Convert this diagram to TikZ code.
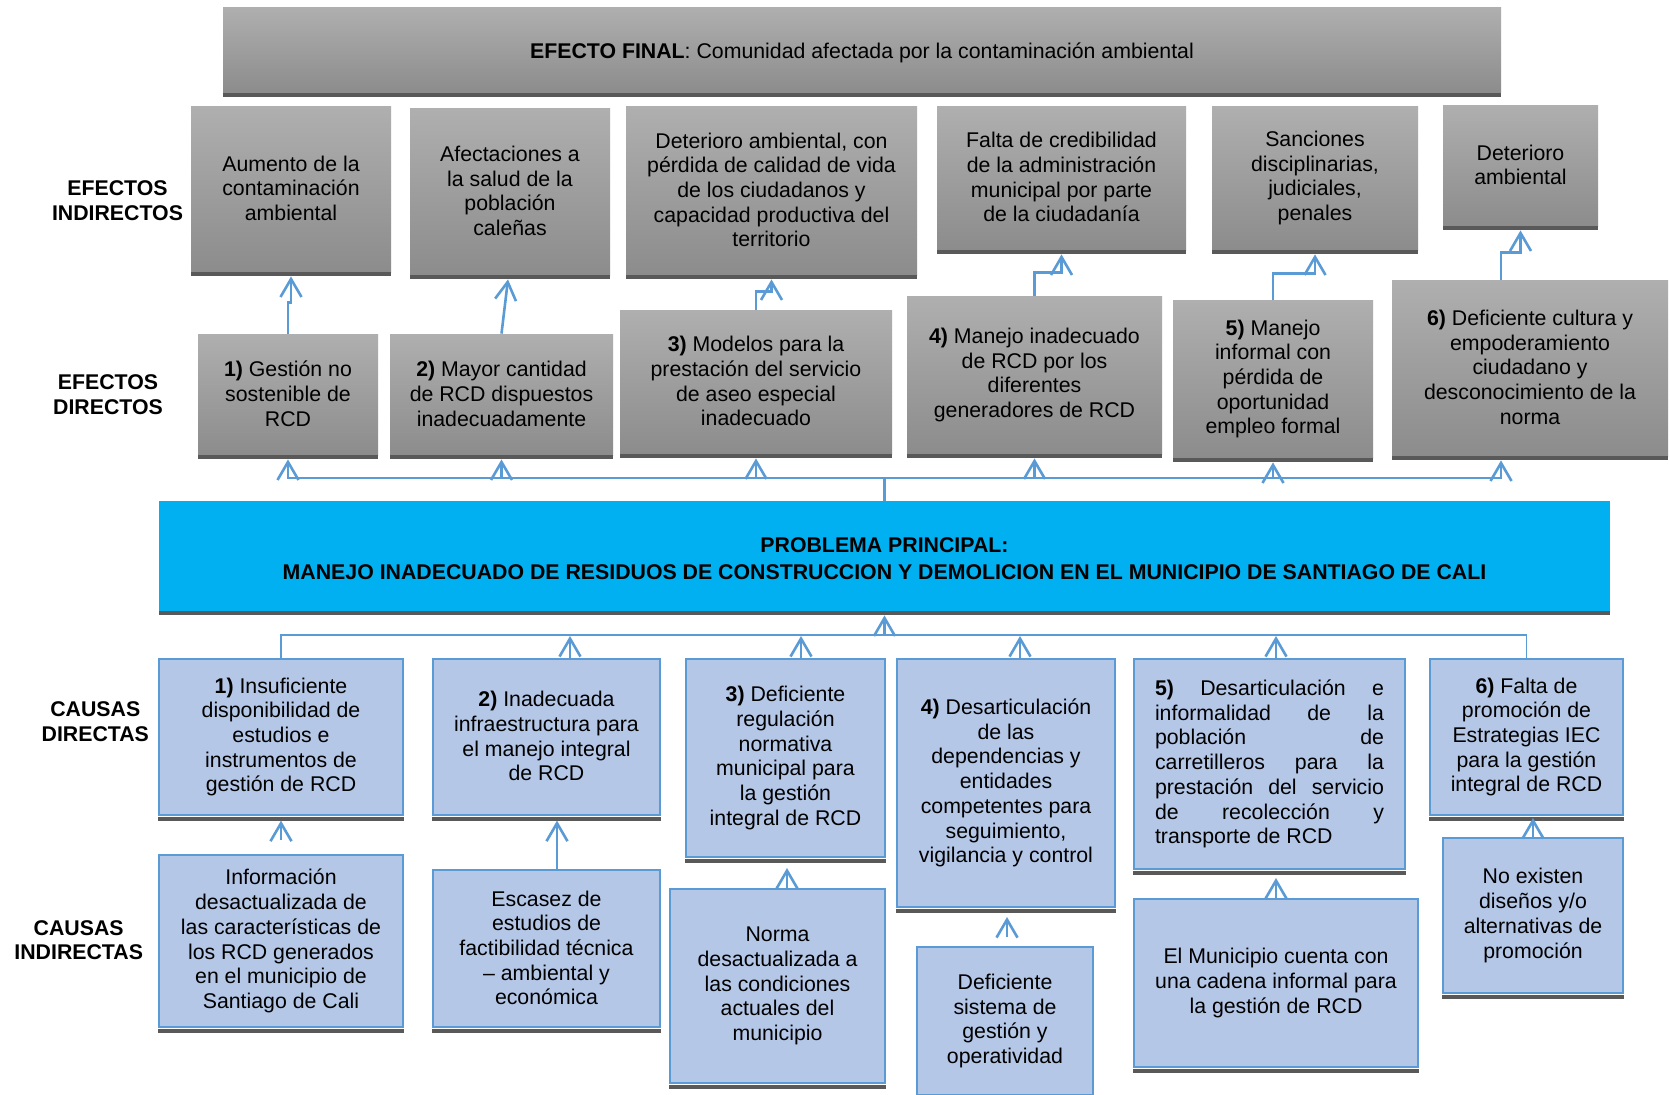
\documentclass[tikz,border=0pt]{standalone}
\usepackage{fontspec}
\setmainfont{Liberation Sans}
\usetikzlibrary{arrows.meta}
\definecolor{gtop}{HTML}{AFAFAF}
\definecolor{gbot}{HTML}{8C8C8C}
\definecolor{bandc}{HTML}{595959}
\definecolor{ppblue}{HTML}{00B0F0}
\definecolor{cfill}{HTML}{B4C7E7}
\definecolor{cline}{HTML}{5B9BD5}
\definecolor{lnk}{HTML}{5B9BD5}
\newcommand\dfont{\fontsize{10.65}{12.35}\selectfont}
\newcommand\topstrut{\rule{0pt}{14.5pt}}
\newcommand\botstrut{\rule[-0.8pt]{0pt}{0pt}}
\begin{document}
\begin{tikzpicture}[x=0.5pt,y=-0.5pt,
  sz/.style 2 args={minimum width=#1*0.5pt, minimum height=#2*0.5pt},
  txt/.style={execute at begin node=\topstrut, execute at end node=\botstrut},
  gbase/.style={rectangle, inner sep=0pt, top color=gtop, bottom color=gbot, align=center, font=\dfont},
  gbox/.style={gbase, txt},
  pbox/.style={rectangle, inner sep=0pt, fill=ppblue, align=center, font=\dfont, txt},
  cbox/.style={rectangle, inner sep=0pt, fill=cfill, draw=cline, line width=1pt, align=center, font=\dfont, txt},
  lab/.style={inner sep=0pt, align=center, font=\dfont\bfseries},
  arr/.style={draw=lnk, line width=1.3pt, -{Straight Barb[length=9pt,width=10.5pt]}},
  ln1/.style={draw=lnk, line width=1.3pt},
  ln2/.style={draw=lnk, line width=0.9pt}]
\fill[white] (0,0) rectangle (1670,1094);
\useasboundingbox (0,0) rectangle (1670,1094);

% labels
\node[lab] (l1) at (117.5,200.5) {EFECTOS\\INDIRECTOS};
\node[lab] (l2) at (108,395) {EFECTOS\\DIRECTOS};
\node[lab] (l3) at (95.3,722) {CAUSAS\\DIRECTAS};
\node[lab] (l4) at (78.7,940) {CAUSAS\\INDIRECTAS};

% final effect
\node[gbase,sz={1278}{85}] (ef) at (862,50) {\rule{0pt}{11pt}\textbf{EFECTO FINAL}: Comunidad afectada por la contaminación ambiental\rule[-1.8pt]{0pt}{0pt}};

% indirect effects
\node[gbox,sz={200}{166}] (ei1) at (291,189) {Aumento de la\\contaminación\\ambiental};
\node[gbox,sz={200}{167}] (ei2) at (510,191.5) {Afectaciones a\\la salud de la\\población\\caleñas};
\node[gbox,sz={291}{169}] (ei3) at (771.5,190.5) {Deterioro ambiental, con\\pérdida de calidad de vida\\de los ciudadanos y\\capacidad productiva del\\territorio};
\node[gbox,sz={249}{144}] (ei4) at (1061.5,178) {Falta de credibilidad\\de la administración\\municipal por parte\\de la ciudadanía};
\node[gbox,sz={206}{144}] (ei5) at (1315,178) {Sanciones\\disciplinarias,\\judiciales,\\penales};
\node[gbox,sz={155}{121}] (ei6) at (1520.5,165.5) {Deterioro\\ambiental};

% direct effects
\node[gbox,sz={180}{121}] (ed1) at (288,394.5) {\textbf{1)} Gestión no\\sostenible de\\RCD};
\node[gbox,sz={223}{121}] (ed2) at (501.5,394.5) {\textbf{2)} Mayor cantidad\\de RCD dispuestos\\inadecuadamente};
\node[gbox,sz={272}{144}] (ed3) at (756,382) {\textbf{3)} Modelos para la\\prestación del servicio\\de aseo especial\\inadecuado};
\node[gbox,sz={255}{158}] (ed4) at (1034.5,375) {\textbf{4)} Manejo inadecuado\\de RCD por los\\diferentes\\generadores de RCD};
\node[gbox,sz={200}{158}] (ed5) at (1273,379) {\textbf{5)} Manejo\\informal con\\pérdida de\\oportunidad\\empleo formal};
\node[gbox,sz={276}{176}] (ed6) at (1530,368) {\textbf{6)} Deficiente cultura y\\empoderamiento\\ciudadano y\\desconocimiento de la\\norma};

% main problem
\node[pbox,sz={1451}{110}] (pp) at (884.5,556) {\rule{0pt}{10.5pt}\textbf{PROBLEMA PRINCIPAL:}\\[1pt]\textbf{MANEJO INADECUADO DE RESIDUOS DE CONSTRUCCION Y DEMOLICION EN EL MUNICIPIO DE SANTIAGO DE CALI}};

% direct causes
\node[cbox,sz={244}{156}] (cd1) at (281,737) {\textbf{1)} Insuficiente\\disponibilidad de\\estudios e\\instrumentos de\\gestión de RCD};
\node[cbox,sz={227}{156}] (cd2) at (546.5,737) {\textbf{2)} Inadecuada\\infraestructura para\\el manejo integral\\de RCD};
\node[cbox,sz={199}{198}] (cd3) at (785.5,758) {\textbf{3)} Deficiente\\regulación\\normativa\\municipal para\\la gestión\\integral de RCD};
\node[cbox,sz={218}{248}] (cd4) at (1006,783) {\textbf{4)} Desarticulación\\de las\\dependencias y\\entidades\\competentes para\\seguimiento,\\vigilancia y control};
\node[cbox,sz={271}{210},align=left] (cd5) at (1269.5,764) {\makebox[114.5pt][s]{\textbf{5)} Desarticulación e}\\\makebox[114.5pt][s]{informalidad de la}\\\makebox[114.5pt][s]{población de}\\\makebox[114.5pt][s]{carretilleros para la}\\\makebox[114.5pt][s]{prestación del servicio}\\\makebox[114.5pt][s]{de recolección y}\\\makebox[114.5pt][l]{transporte de RCD}};
\node[cbox,sz={193}{156}] (cd6) at (1526.5,737) {\textbf{6)} Falta de\\promoción de\\Estrategias IEC\\para la gestión\\integral de RCD};

% indirect causes
\node[cbox,sz={244}{172}] (ci1) at (281,941) {Información\\desactualizada de\\las características de\\los RCD generados\\en el  municipio de\\Santiago de Cali};
\node[cbox,sz={227}{157}] (ci2) at (546.5,948.5) {Escasez de\\estudios de\\factibilidad técnica\\– ambiental y\\económica};
\node[cbox,sz={215}{194}] (ci3) at (777.5,986) {Norma\\desactualizada a\\las condiciones\\actuales del\\municipio};
\node[cbox,sz={176}{148}] (ci4) at (1005,1021) {Deficiente\\sistema de\\gestión y\\operatividad};
\node[cbox,sz={284}{168}] (ci5) at (1276,983) {El Municipio cuenta con\\una cadena informal para\\la gestión de RCD};
\node[cbox,sz={180}{155}] (ci6) at (1533,915.5) {No existen\\diseños y/o\\alternativas de\\promoción};

% bottom bands
\foreach \n in {ef,ei1,ei2,ei3,ei4,ei5,ei6,ed1,ed2,ed3,ed4,ed5,ed6,pp}{
  \fill[bandc] (\n.south west) rectangle ([yshift=-2pt]\n.south east);
  \coordinate (\n-b) at ([yshift=-2pt]\n.south);
}
\foreach \n in {cd1,cd2,cd3,cd4,cd5,cd6,ci1,ci2,ci3,ci4,ci5,ci6}{
  \fill[bandc] ([yshift=-0.5pt]\n.south west) rectangle ([yshift=-2.3pt]\n.south east);
  \coordinate (\n-b) at ([yshift=-2.3pt]\n.south);
}

% effects bus
\coordinate (tb) at (884.5,478);
\draw[ln1] (pp.north) -- (tb);
\foreach \n in {ed1,ed2,ed3,ed4,ed5}{\draw[arr] (tb) -| (\n-b);}
\draw[arr] (tb) -| ([xshift=-14.5pt]ed6-b);

% direct -> indirect effects
\draw[arr] (ed1.north) -- ++(0,-31) -| (ei1-b);
\draw[arr] (ed2.north) -- ([xshift=-1pt]ei2-b);
\draw[arr] (ed3.north) -- ++(0,-18) -| (ei3-b);
\draw[arr] (ed4.north) -- ++(0,-23) -| (ei4-b);
\draw[arr] (ed5.north) -- ++(0,-26) -| (ei5-b);
\draw[arr] ([xshift=-14.5pt]ed6.north) -- ++(0,-27) -| (ei6-b);

% causes bus
\coordinate (lb) at (884.5,635);
\draw[ln2] (cd1.north) |- (lb) -| (cd6.north);
\draw[arr] (lb) -- (pp-b);
\draw[arr] ([xshift=11.75pt]cd2.north) -- ++(0,-22);
\draw[arr] ([xshift=7.75pt]cd3.north) -- ++(0,-22);
\draw[arr] ([xshift=7pt]cd4.north) -- ++(0,-22);
\draw[arr] ([xshift=3.25pt]cd5.north) -- ++(0,-22);

% indirect -> direct causes
\draw[arr] ([yshift=7pt]ci1.north) -- (cd1-b);
\draw[arr] ([xshift=5.25pt]ci2.north) -- ([xshift=5.25pt]cd2-b);
\draw[arr] ([xshift=4.75pt]ci3.north) -- ++(0,-20);
\draw[arr] ([xshift=1pt,yshift=4.5pt]ci4.north) -- ++(0,-20);
\draw[arr] (ci5.north) -- ++(0,-20);
\draw[arr] (ci6.north) -- ++(0,-19);
\end{tikzpicture}
\end{document}
